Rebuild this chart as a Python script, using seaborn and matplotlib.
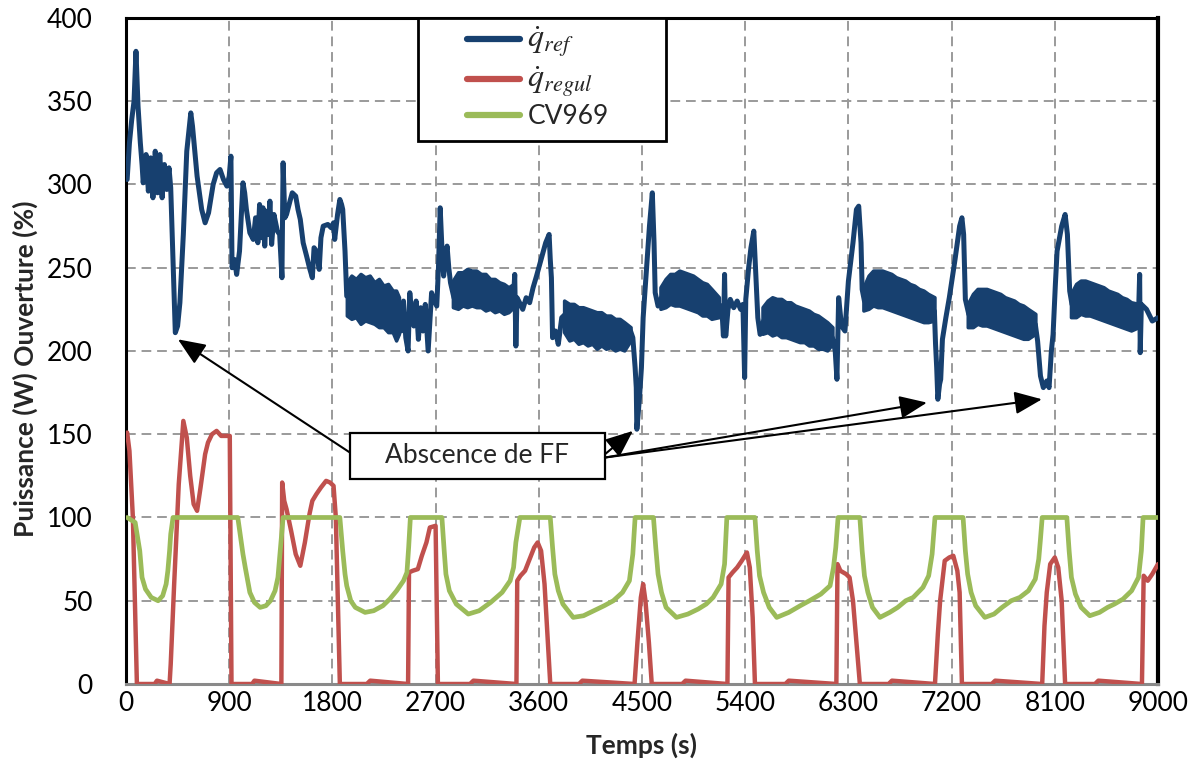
import numpy as np
import pandas as pd
import seaborn as sns
import matplotlib.pyplot as plt
from matplotlib.patches import Rectangle

# q_ref (blue) - main trace knots
blue_t = [10, 30, 50, 70, 87, 105, 125, 140, 150, 175, 195, 215, 235, 255, 275, 295, 315, 335, 355, 375, 390,
          430, 450, 470, 500, 530, 565, 580, 620, 660, 690, 720, 760, 790, 820, 850, 880, 900, 915, 925, 945,
          965, 990, 1020, 1035, 1050, 1080, 1110, 1130, 1150, 1165, 1180, 1195, 1210, 1225, 1240, 1255, 1270,
          1290, 1320, 1340, 1360, 1370, 1385, 1400, 1430, 1450, 1480, 1500, 1520, 1545, 1575, 1600, 1625, 1640,
          1660, 1685, 1700, 1720, 1760, 1790, 1810, 1820, 1845, 1865, 1880, 1890, 1910, 1925,
          2380, 2400, 2420, 2440, 2460, 2475, 2490, 2510, 2530, 2550, 2570, 2590, 2610, 2635, 2665, 2690, 2710,
          2725, 2740, 2755, 2770, 2785, 2800, 2815, 2830, 2860,
          3380, 3390, 3400, 3410, 3440, 3460, 3490, 3520, 3550, 3580, 3620, 3660, 3690, 3700, 3710, 3720, 3745,
          3770, 3800, 3830,
          4400, 4420, 4440, 4450, 4455, 4470, 4480, 4495, 4510, 4540, 4565, 4590, 4605, 4615, 4640, 4670,
          5170, 5195, 5210, 5220, 5230, 5250, 5270, 5300, 5330, 5360, 5380, 5395, 5405, 5430, 5450, 5475, 5490,
          5510, 5530, 5560,
          6160, 6185, 6200, 6215, 6240, 6270, 6300, 6340, 6370, 6390, 6410, 6420, 6440,
          7050, 7060, 7070, 7080, 7095, 7105, 7120, 7150, 7180, 7230, 7270, 7290, 7305, 7320, 7350,
          7930, 7950, 7975, 8000, 8030, 8050, 8070, 8085, 8105, 8120, 8160, 8190, 8210, 8230, 8250,
          8830, 8840, 8845, 8855, 8900, 8950, 9000]
blue_v = [303, 325, 339, 350, 380, 347, 325, 312, 301, 318, 296, 316, 292, 320, 295, 318, 292, 312, 297, 310, 298,
          211, 215, 229, 270, 320, 343, 335, 305, 285, 277, 283, 300, 307, 309, 303, 299, 305, 317, 250, 255,
          246, 260, 301, 295, 285, 271, 267, 280, 265, 288, 268, 286, 263, 284, 270, 290, 264,
          282, 272, 270, 244, 313, 280, 282, 290, 295, 293, 285, 279, 265, 257, 250, 244, 262,
          260, 249, 268, 275, 276, 274, 277, 267, 282, 291, 288, 285, 260, 233,
          228, 212, 230, 208, 200, 235, 222, 215, 230, 207, 226, 212, 228, 200, 235, 230, 227,
          250, 286, 262, 245, 255, 263, 250, 241, 232,
          232, 246, 203, 232, 228, 225, 232, 229, 238, 245, 255, 265, 270, 255, 244, 208, 212,
          204, 220, 222,
          212, 208, 190, 178, 153, 165, 174, 190, 220, 250, 275, 295, 265, 235, 227, 232,
          226, 227, 209, 246, 209, 225, 231, 226, 230, 225, 228, 184, 231, 250, 262, 272, 250,
          220, 210, 218,
          208, 200, 183, 232, 215, 212, 242, 265, 285, 287, 265, 237, 230,
          224, 204, 190, 171, 180, 183, 207, 220, 232, 255, 275, 280, 270, 231, 222,
          216, 206, 185, 178, 182, 178, 200, 210, 240, 260, 275, 282, 270, 236, 228,
          222, 246, 199, 228, 225, 218, 220]

# q_ref noisy band envelope (NaN separates segments)
band_t = [1930, 1970, 2010, 2050, 2090, 2130, 2170, 2210, 2250, 2290, 2330, 2360, 2385, np.nan,
          2855, 2900, 2940, 2980, 3020, 3060, 3100, 3140, 3180, 3220, 3260, 3300, 3340, 3385, np.nan,
          3825, 3870, 3910, 3950, 3990, 4030, 4070, 4110, 4150, 4190, 4230, 4270, 4310, 4350, 4405, np.nan,
          4665, 4710, 4750, 4790, 4830, 4870, 4910, 4950, 4990, 5030, 5070, 5110, 5175, np.nan,
          5555, 5600, 5640, 5680, 5720, 5760, 5800, 5840, 5880, 5920, 5960, 6000, 6040, 6080, 6120, 6165, np.nan,
          6435, 6480, 6520, 6560, 6600, 6640, 6680, 6720, 6760, 6800, 6840, 6880, 6920, 6960, 7000, 7055, np.nan,
          7345, 7390, 7430, 7470, 7510, 7550, 7590, 7630, 7670, 7710, 7750, 7790, 7830, 7870, 7935, np.nan,
          8245, 8290, 8330, 8370, 8410, 8450, 8490, 8530, 8570, 8610, 8650, 8690, 8730, 8770, 8835]
band_hi = [241, 245, 243, 246, 244, 245, 241, 243, 239, 240, 236, 236, 232, np.nan,
           242, 247, 247, 249, 248, 248, 246, 246, 243, 243, 241, 240, 238, 240, np.nan,
           230, 228, 228, 226, 226, 225, 224, 223, 223, 221, 221, 219, 219, 217, 214, np.nan,
           238, 243, 246, 246, 248, 247, 246, 245, 243, 241, 240, 237, 232, np.nan,
           226, 230, 232, 231, 231, 229, 229, 227, 226, 225, 224, 222, 221, 219, 217, 214, np.nan,
           238, 245, 248, 248, 248, 247, 246, 244, 243, 242, 240, 239, 237, 236, 234, 232, np.nan,
           228, 234, 237, 237, 237, 236, 235, 234, 232, 231, 230, 228, 227, 225, 222, np.nan,
           234, 240, 242, 242, 241, 240, 239, 238, 236, 235, 234, 232, 231, 229, 228]
band_lo = [221, 219, 220, 216, 218, 217, 216, 214, 214, 211, 211, 206, 210, np.nan,
           226, 225, 227, 226, 227, 226, 226, 224, 225, 223, 224, 222, 223, 226, np.nan,
           211, 206, 207, 204, 205, 203, 204, 201, 203, 201, 202, 200, 201, 200, 206, np.nan,
           225, 226, 228, 227, 227, 226, 225, 224, 223, 221, 221, 219, 220, np.nan,
           210, 211, 209, 210, 208, 208, 207, 206, 205, 205, 203, 203, 201, 201, 200, 204, np.nan,
           224, 225, 227, 226, 226, 225, 224, 223, 222, 221, 220, 219, 218, 217, 217, 218, np.nan,
           214, 214, 216, 215, 215, 214, 213, 212, 211, 210, 209, 208, 207, 207, 210, np.nan,
           220, 220, 222, 221, 221, 220, 219, 218, 217, 216, 215, 214, 213, 212, 214]

# q_regul (red)
red_t = [10, 30, 60, 95, 250, 270, 380, 390, 420, 460, 500, 530, 560, 590, 620, 650, 690, 715, 750, 790, 830,
         870, 905, 920, 1100, 1120, 1355, 1362, 1380, 1400, 1440, 1480, 1520, 1560, 1600, 1625, 1660, 1700,
         1745, 1780, 1810, 1830, 1865, 2100, 2130, 2460, 2468, 2500, 2545, 2580, 2620, 2650, 2700, 2720,
         3000, 3030, 3405, 3412, 3440, 3480, 3520, 3560, 3590, 3620, 3650, 3700, 3950, 3980, 4435, 4460,
         4490, 4510, 4530, 4560, 4585, 4850, 4880, 5245, 5255, 5290, 5330, 5370, 5415, 5440, 5465, 5485,
         5750, 5780, 6195, 6205, 6230, 6280, 6310, 6340, 6400, 6650, 6680, 7055, 7080, 7100, 7140, 7180,
         7215, 7250, 7270, 7290, 7550, 7580, 7990, 8010, 8030, 8060, 8100, 8130, 8160, 8190, 8450, 8480,
         8860, 8875, 8910, 8950, 9000]
red_v = [151, 140, 100, 0, 0, 2, 0, 12, 60, 120, 158, 148, 125, 108, 104, 118, 138, 145, 150, 152, 149,
         149, 149, 0, 0, 2, 0, 121, 110, 105, 92, 78, 71, 85, 102, 110, 114, 118,
         122, 121, 119, 100, 0, 0, 2, 0, 67, 68, 69, 77, 85, 94, 95, 0,
         0, 2, 0, 62, 65, 68, 75, 82, 85, 80, 60, 0, 0, 2, 0, 25,
         52, 60, 50, 25, 0, 0, 2, 0, 64, 67, 70, 74, 79, 70, 40, 0,
         0, 2, 0, 72, 68, 66, 64, 50, 0, 0, 2, 0, 30, 50, 74, 76,
         77, 68, 55, 0, 0, 2, 0, 35, 55, 72, 76, 70, 50, 0, 0, 2,
         0, 65, 62, 66, 72]

# CV969 valve opening (green)
green_t = [10, 80, 120, 140, 170, 220, 280, 320, 350, 365, 380, 390, 410, 975, 1000, 1020, 1040, 1080, 1120,
           1170, 1220, 1260, 1300, 1325, 1345, 1360, 1370, 1865, 1890, 1910, 1925, 1960, 2000, 2085, 2160,
           2240, 2300, 2360, 2420, 2450, 2465, 2480, 2755, 2775, 2790, 2820, 2880, 2985, 3080, 3180, 3280,
           3350, 3380, 3400, 3435, 3700, 3720, 3740, 3770, 3810, 3900, 3990, 4080, 4170, 4250, 4330, 4390,
           4420, 4440, 4600, 4620, 4640, 4670, 4710, 4800, 4900, 4990, 5060, 5120, 5190, 5220, 5240, 5485,
           5505, 5525, 5560, 5610, 5675, 5780, 5880, 5960, 6060, 6140, 6170, 6190, 6210, 6400, 6420, 6440,
           6470, 6510, 6575, 6660, 6730, 6800, 6865, 6950, 7000, 7030, 7055, 7300, 7320, 7340, 7370, 7410,
           7490, 7570, 7640, 7720, 7795, 7870, 7930, 7960, 7975, 7990, 8205, 8225, 8245, 8280, 8330, 8405,
           8490, 8560, 8620, 8695, 8770, 8830, 8855, 8870, 9000]
green_v = [100, 97, 80, 64, 57, 52, 50, 53, 60, 68, 80, 90, 100, 100, 88, 78, 70, 55, 49,
           46, 47, 50, 56, 64, 80, 92, 100, 100, 80, 66, 59, 50, 46, 43, 44,
           47, 51, 56, 62, 67, 82, 100, 100, 80, 66, 56, 48, 42, 44, 49, 55,
           62, 70, 85, 100, 100, 82, 66, 56, 48, 40, 41, 44, 47, 50, 55, 62,
           78, 100, 100, 82, 66, 55, 46, 40, 42, 45, 48, 52, 60, 72, 100, 100,
           80, 65, 55, 46, 40, 43, 47, 50, 54, 59, 70, 82, 100, 100, 80, 65,
           55, 46, 40, 43, 46, 50, 52, 58, 65, 78, 100, 100, 80, 66, 55, 47,
           40, 42, 46, 50, 52, 56, 63, 75, 87, 100, 100, 80, 64, 54, 46, 41,
           43, 46, 48, 51, 56, 64, 80, 100, 100]

x_ticks = list(range(0, 9001, 900))
y_ticks = list(range(0, 401, 50))

c_blue = '#17406f'
c_red = '#c0504d'
c_green = '#9bbb59'

sns.set_theme(style='white')
plt.rcParams['font.family'] = ['Lato', 'DejaVu Sans']
plt.rcParams['mathtext.fontset'] = 'stix'

fig = plt.figure(figsize=(12, 7.72), dpi=100)
ax = fig.add_axes([0.105, 0.114, 0.86, 0.8627])

ax.grid(True, color='#9a9a9a', linestyle=(0, (5, 3)), linewidth=1.4, zorder=0)
ax.set_axisbelow(True)

# noisy band, one closed polygon per segment
band = pd.DataFrame({'t': band_t, 'lo': band_lo, 'hi': band_hi})
band['seg'] = band['t'].isna().cumsum()
for _, seg in band.dropna().groupby('seg'):
    t = seg['t'].to_numpy()
    ax.fill(np.r_[t, t[::-1]], np.r_[seg['hi'].to_numpy(), seg['lo'].to_numpy()[::-1]],
            facecolor=c_blue, edgecolor=c_blue, linewidth=2.5, joinstyle='round', zorder=3)

sns.lineplot(x=blue_t, y=blue_v, ax=ax, color=c_blue, lw=3.6, sort=False, estimator=None,
             label=r'$\dot{q}_{ref}$', zorder=3)
sns.lineplot(x=red_t, y=red_v, ax=ax, color=c_red, lw=3.2, sort=False, estimator=None,
             label=r'$\dot{q}_{regul}$', zorder=4)
sns.lineplot(x=green_t, y=green_v, ax=ax, color=c_green, lw=3.4, sort=False, estimator=None,
             label='CV969', zorder=5)

ax.set_xlim(0, 9000)
ax.set_ylim(0, 400)
ax.set_xticks(x_ticks)
ax.set_yticks(y_ticks)
ax.tick_params(axis='both', labelsize=19, direction='in', length=6, width=1.2, colors='black')
ax.tick_params(axis='x', pad=5)
ax.tick_params(axis='y', pad=24)
ax.set_xlabel('Temps (s)', fontsize=19, fontweight='bold', labelpad=12)
ax.set_ylabel('Puissance (W) Ouverture (%)', fontsize=19, fontweight='bold')
ax.yaxis.set_label_coords(-0.085, 0.474)

for side in ['left', 'top']:
    ax.spines[side].set_color('black')
    ax.spines[side].set_linewidth(2.2)
ax.spines['right'].set_color('black')
ax.spines['right'].set_linewidth(3)
ax.spines['bottom'].set_color('#8a8a8a')
ax.spines['bottom'].set_linewidth(2.2)

# legend box
ax.add_patch(Rectangle((0.283, 0.815), 0.240, 0.185, transform=ax.transAxes, facecolor='white',
                       edgecolor='black', lw=2, zorder=8))
leg = ax.legend(loc='upper left', bbox_to_anchor=(0.32, 1.007), frameon=False, fontsize=19,
                handlelength=2.0, handletextpad=0.3, labelspacing=0.18, borderaxespad=0)
leg.set_zorder(9)
for txt in leg.get_texts()[:2]:
    txt.set_fontsize(23)
for line in leg.get_lines():
    line.set_linewidth(4.5)
    line.set_solid_capstyle('round')

# annotation box
ax.add_patch(Rectangle((1953, 123), 2224, 28, facecolor='white', edgecolor='black', lw=1.6, zorder=6))
ax.text(3065, 137, 'Abscence de FF', ha='center', va='center', fontsize=19, zorder=7)
arrow = dict(arrowstyle='-|>,head_length=0.6,head_width=0.25', color='black', lw=1.5,
             mutation_scale=28, shrinkA=0, shrinkB=0)
ax.annotate('', xy=(453, 207), xytext=(1953, 139), arrowprops=arrow, zorder=7)
ax.annotate('', xy=(4421, 152), xytext=(4177, 138), arrowprops=arrow, zorder=7)
ax.annotate('', xy=(6985, 169), xytext=(4177, 136), arrowprops=arrow, zorder=7)
ax.annotate('', xy=(7988, 171), xytext=(4177, 136), arrowprops=arrow, zorder=7)

plt.savefig('out.png', dpi=100)
